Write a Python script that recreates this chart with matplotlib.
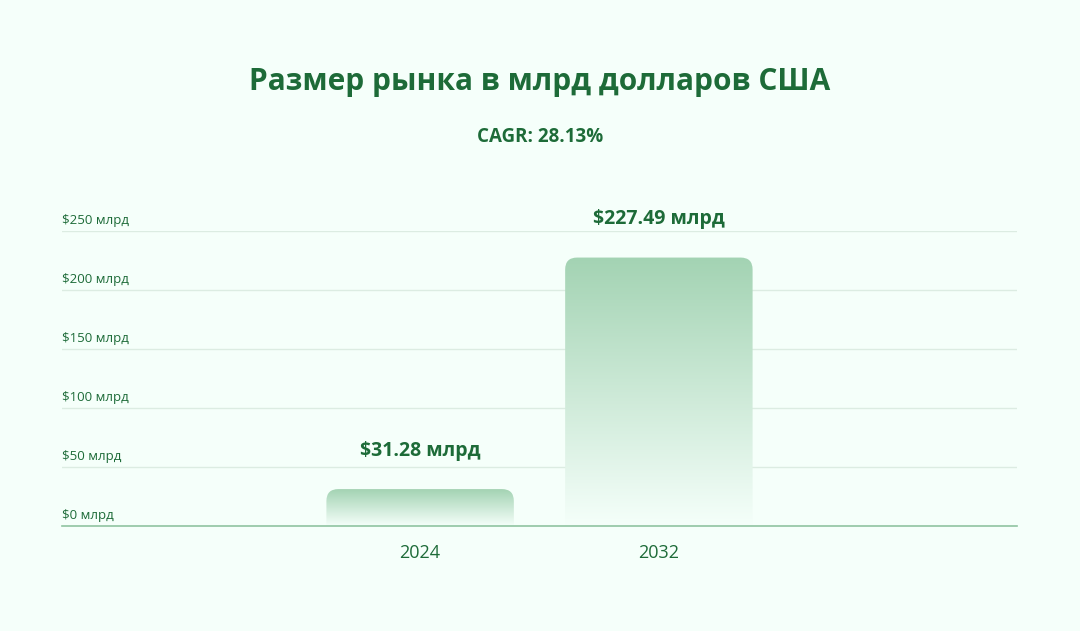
import matplotlib
matplotlib.use("Agg")
import matplotlib.pyplot as plt
import numpy as np
from matplotlib.patches import FancyBboxPatch
from matplotlib.colors import LinearSegmentedColormap
import matplotlib.transforms as mtransforms

years = ["2024", "2032"]
values = [31.28, 227.49]
value_labels = ["$31.28 млрд", "$227.49 млрд"]
yticks = [0, 50, 100, 150, 200, 250]
ytick_labels = ["$0 млрд", "$50 млрд", "$100 млрд", "$150 млрд", "$200 млрд", "$250 млрд"]
title = "Размер рынка в млрд долларов США"
subtitle = "CAGR: 28.13%"

bg = "#f5fffa"
dark = "#1d6b38"
bar_top = "#a3d3b3"

plt.rcParams['font.family'] = ['Open Sans', 'DejaVu Sans']

fig = plt.figure(figsize=(10.8, 6.31), dpi=100, facecolor=bg)
ax = fig.add_axes([62/1080, 105/631, 955/1080, 295/631])
ax.set_facecolor(bg)

x = np.arange(len(years))
width = 0.785
ax.set_xlim(-1.5, 2.5)
ax.set_ylim(0, 250)

# bar gradient, light at the base
cmap = LinearSegmentedColormap.from_list("g", [bg, bar_top])
grad = np.linspace(0, 1, 256).reshape(-1, 1)
rx = 0.05
aspect = (250 / 295) / (4.0 / 955)  # data-y per px / data-x per px
for xi, v, lab in zip(x, values, value_labels):
    patch = FancyBboxPatch((xi - width/2, -15), width, v + 15,
                           boxstyle=f"round,pad=0,rounding_size={rx}",
                           mutation_aspect=aspect, facecolor="none",
                           edgecolor="none")
    ax.add_patch(patch)
    im = ax.imshow(grad, cmap=cmap, origin="lower", aspect="auto",
                   extent=[xi - width/2, xi + width/2, 0, v], zorder=2)
    im.set_clip_path(patch)
    ax.text(xi, v + 24, lab, ha="center", va="bottom", fontsize=14,
            fontweight="bold", color=dark)

ax.set_xlim(-1.5, 2.5)
ax.set_ylim(0, 250)

ytrans = mtransforms.blended_transform_factory(ax.transAxes, ax.transData)
for t, lab in zip(yticks, ytick_labels):
    if t > 0:
        ax.axhline(t, color="#dcece2", lw=1, zorder=1)
    ax.text(0, t + 3.5, lab, transform=ytrans, ha="left", va="bottom",
            fontsize=9.5, color=dark)

for s in ["top", "right", "left"]:
    ax.spines[s].set_visible(False)
ax.spines["bottom"].set_color("#8fc4a1")
ax.spines["bottom"].set_linewidth(1.2)
ax.set_yticks([])
ax.set_xticks(x)
ax.set_xticklabels(years, fontsize=13, color=dark)
ax.tick_params(axis="x", length=0, pad=13)

fig.text(0.5, 1 - 82/631, title, ha="center", va="center", fontsize=21.5,
         fontweight="bold", color=dark)
fig.text(0.5, 1 - 137/631, subtitle, ha="center", va="center", fontsize=13.5,
         fontweight="bold", color=dark)

fig.savefig("out.png", dpi=100, facecolor=bg)
